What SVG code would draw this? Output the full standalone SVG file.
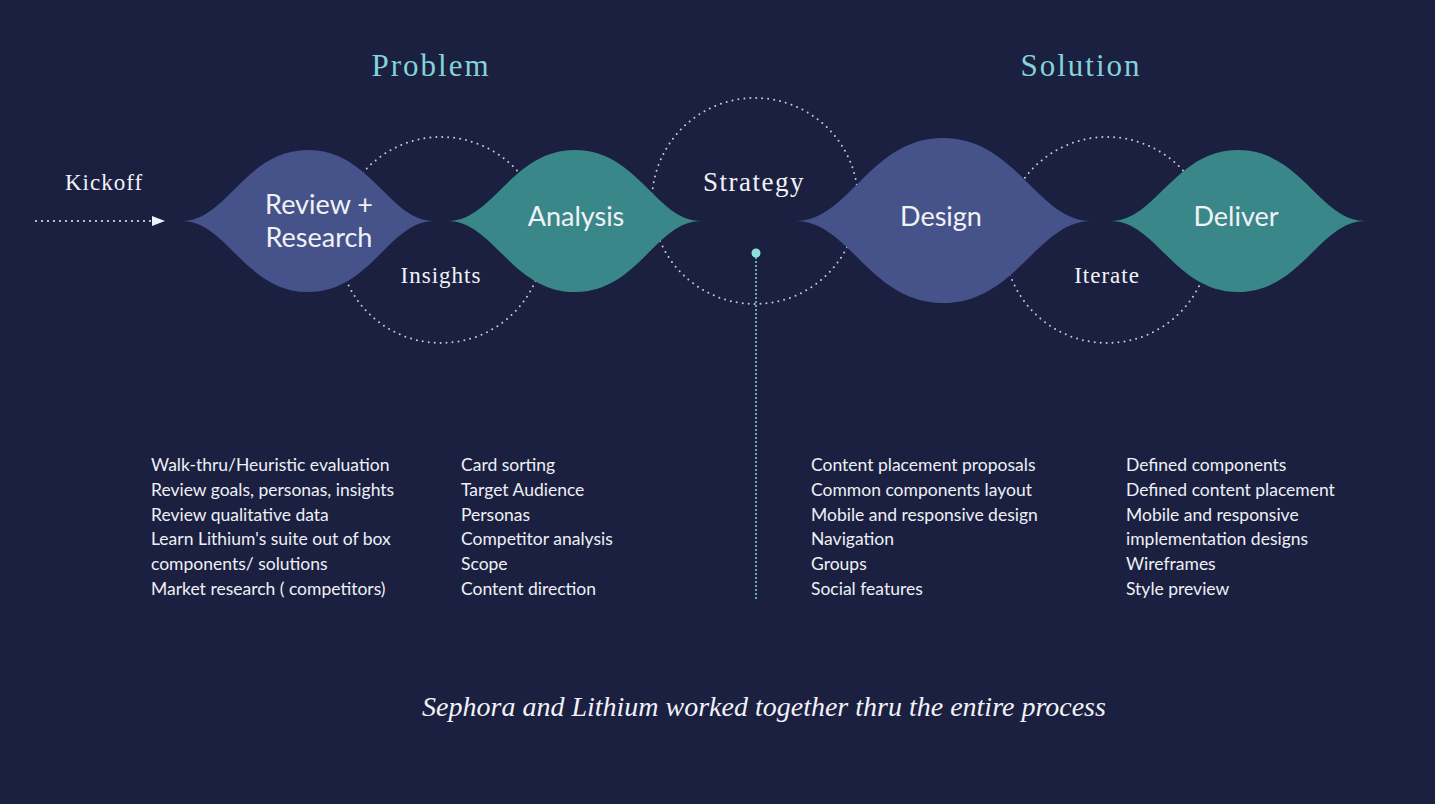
<svg xmlns="http://www.w3.org/2000/svg" width="1435" height="804" viewBox="0 0 1435 804">
<defs>
<style>
.bg{fill:#1b2041}
.purple{fill:#46528a}
.teal{fill:#3a8789}
.dotc{fill:none;stroke:#c9ccd8;stroke-width:2;stroke-dasharray:0 6;stroke-linecap:round}
.lbl{font-family:Lato,"Noto Sans",sans-serif;font-weight:400;font-size:27px;fill:#f1f2f6;text-anchor:middle}
.ser{font-family:"Liberation Serif","DejaVu Serif",serif;fill:#f1f2f6;text-anchor:middle}
.ttl{font-family:"Liberation Serif","DejaVu Serif",serif;font-size:31px;fill:#84d3d8;text-anchor:middle;letter-spacing:2px}
.lst{font-family:Lato,"Noto Sans",sans-serif;font-size:17.5px;fill:#eef0f5}
</style>
<marker id="arr" markerWidth="14" markerHeight="12" refX="2" refY="5" orient="auto" markerUnits="userSpaceOnUse">
<path d="M0,0 L13,5 L0,10 Z" fill="#e6f6fb"/>
</marker>
</defs>
<rect class="bg" x="0" y="0" width="1435" height="804"/>

<g id="titles">
<text class="ttl" x="431" y="76">Problem</text>
<text class="ttl" x="1081" y="76">Solution</text>
</g>

<g id="connectors">
<circle class="dotc" cx="441" cy="240" r="103"/>
<circle class="dotc" cx="755" cy="201" r="103"/>
<circle class="dotc" cx="1107" cy="240" r="103"/>
<line x1="36" y1="221" x2="154" y2="221" stroke="#e6f6fb" stroke-width="2" stroke-dasharray="0 6" stroke-linecap="round" marker-end="url(#arr)"/>
<line x1="756" y1="258" x2="756" y2="600" stroke="#7fd8d6" stroke-width="2" stroke-dasharray="0 4" stroke-linecap="round"/>
<circle cx="756" cy="253" r="4.5" fill="#8ee0dc"/>
</g>

<g id="kickoff">
<text class="ser" x="104" y="190" style="font-size:23px;letter-spacing:1px">Kickoff</text>
</g>

<g id="review">
<path class="purple" d="M182,221 C227,221 245,150 308,150 C371,150 389,221 434,221 C389,221 371,292 308,292 C245,292 227,221 182,221 Z"/>
<text class="lbl" x="319" y="214">Review +</text>
<text class="lbl" x="319" y="247">Research</text>
</g>

<g id="analysis">
<path class="teal" d="M448,221 C493,221 512,150 575,150 C638,150 656,221 701,221 C656,221 638,292 575,292 C512,292 493,221 448,221 Z"/>
<text class="lbl" x="576" y="226">Analysis</text>
</g>

<g id="insights">
<text class="ser" x="441" y="283" style="font-size:23px;letter-spacing:1px">Insights</text>
</g>

<g id="strategy">
<text class="ser" x="754" y="191" style="font-size:27px;letter-spacing:1.5px">Strategy</text>
</g>

<g id="design">
<path class="purple" d="M796,221 C849,221 870,138 943,138 C1016,138 1038,221 1091,221 C1038,221 1016,303 943,303 C870,303 849,221 796,221 Z"/>
<text class="lbl" x="941" y="226">Design</text>
</g>

<g id="iterate">
<text class="ser" x="1107" y="283" style="font-size:23px;letter-spacing:1px">Iterate</text>
</g>

<g id="deliver">
<path class="teal" d="M1111,221 C1156,221 1175,150 1238,150 C1301,150 1320,221 1365,221 C1320,221 1301,292 1238,292 C1175,292 1156,221 1111,221 Z"/>
<text class="lbl" x="1236" y="226">Deliver</text>
</g>

<g id="list-review">
<text class="lst" x="151" y="471">Walk-thru/Heuristic evaluation</text>
<text class="lst" x="151" y="496">Review goals, personas, insights</text>
<text class="lst" x="151" y="521">Review qualitative data</text>
<text class="lst" x="151" y="545">Learn Lithium's suite out of box</text>
<text class="lst" x="151" y="570">components/ solutions</text>
<text class="lst" x="151" y="595">Market research ( competitors)</text>
</g>

<g id="list-analysis">
<text class="lst" x="461" y="471">Card sorting</text>
<text class="lst" x="461" y="496">Target Audience</text>
<text class="lst" x="461" y="521">Personas</text>
<text class="lst" x="461" y="545">Competitor analysis</text>
<text class="lst" x="461" y="570">Scope</text>
<text class="lst" x="461" y="595">Content direction</text>
</g>

<g id="list-design">
<text class="lst" x="811" y="471">Content placement proposals</text>
<text class="lst" x="811" y="496">Common components layout</text>
<text class="lst" x="811" y="521">Mobile and responsive design</text>
<text class="lst" x="811" y="545">Navigation</text>
<text class="lst" x="811" y="570">Groups</text>
<text class="lst" x="811" y="595">Social features</text>
</g>

<g id="list-deliver">
<text class="lst" x="1126" y="471">Defined components</text>
<text class="lst" x="1126" y="496">Defined content placement</text>
<text class="lst" x="1126" y="521">Mobile and responsive</text>
<text class="lst" x="1126" y="545">implementation designs</text>
<text class="lst" x="1126" y="570">Wireframes</text>
<text class="lst" x="1126" y="595">Style preview</text>
</g>

<g id="footer">
<text class="ser" x="764" y="716" style="font-size:28px;font-style:italic">Sephora and Lithium worked together thru the entire process</text>
</g>
</svg>
